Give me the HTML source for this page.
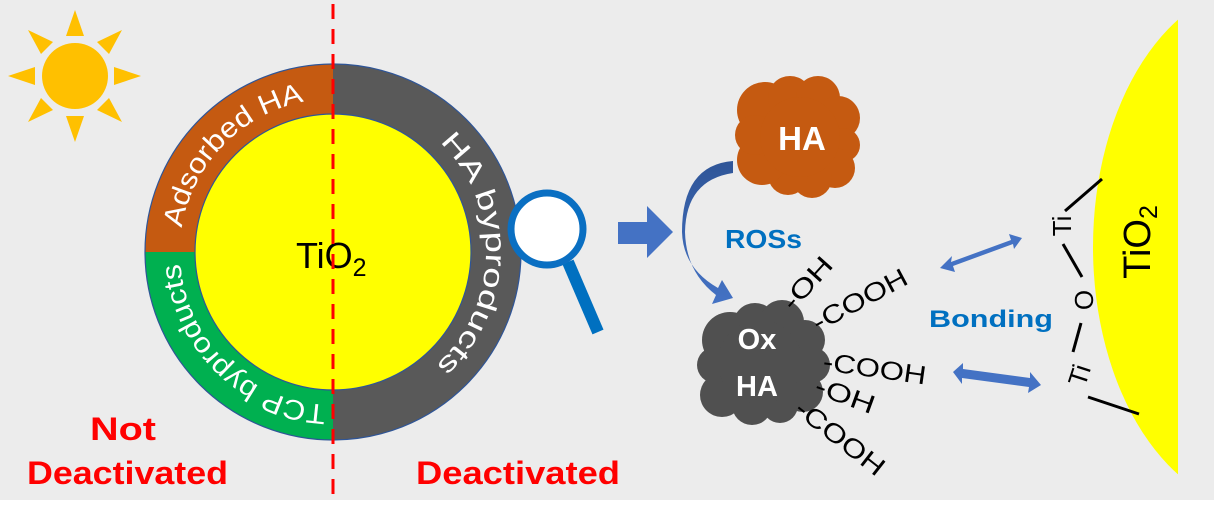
<!DOCTYPE html>
<html><head><meta charset="utf-8"><style>
html,body{margin:0;padding:0;background:#fff;}
svg{display:block;font-family:"Liberation Sans",Arial,sans-serif;}
</style></head><body>
<svg width="1214" height="518" viewBox="0 0 1214 518" xmlns="http://www.w3.org/2000/svg">
<defs>
<linearGradient id="cg" x1="0" y1="0" x2="0" y2="1">
<stop offset="0" stop-color="#2f5597"/><stop offset="1" stop-color="#4472c4"/>
</linearGradient>
<path id="pL" d="M180,252 A153,153 0 0 1 333,99"/>
<path id="pR" d="M333,99 A153,153 0 0 1 333,405"/>
<path id="pB" d="M333,405 A153,153 0 0 1 180,252"/>
<clipPath id="tc"><rect x="0" y="0" width="1178" height="518"/></clipPath>
</defs>
<rect x="0" y="0" width="1214" height="500" fill="#ececec"/>

<!-- sun -->
<g fill="#ffc000">
<circle cx="75" cy="76" r="33"/>
<polygon points="75,10 66,36 84,36"/>
<polygon points="75,142 66,116 84,116"/>
<polygon points="8,76 35,67 35,85"/>
<polygon points="141,76 114,67 114,85"/>
<polygon points="28,30 53,42 41,54"/>
<polygon points="122,30 97,42 109,54"/>
<polygon points="28,122 53,110 41,98"/>
<polygon points="122,122 97,110 109,98"/>
</g>

<!-- ring -->
<path d="M333,252 L333,64 A188,188 0 0 1 333,440 Z" fill="#595959"/>
<path d="M333,252 L145,252 A188,188 0 0 1 333,64 Z" fill="#c55a11"/>
<path d="M333,252 L333,440 A188,188 0 0 1 145,252 Z" fill="#00b050"/>
<circle cx="333" cy="252" r="188" fill="none" stroke="#2f5597" stroke-width="1.2"/>
<circle cx="333" cy="252" r="138" fill="#ffff00" stroke="#2f5597" stroke-width="1.2"/>
<text font-size="28" fill="#fff"><textPath href="#pL" startOffset="49%" text-anchor="middle" textLength="187" lengthAdjust="spacingAndGlyphs">Adsorbed HA</textPath></text>
<text font-size="28" fill="#fff"><textPath href="#pR" startOffset="50.5%" text-anchor="middle" textLength="250" lengthAdjust="spacingAndGlyphs">HA byproducts</textPath></text>
<text font-size="28" fill="#fff"><textPath href="#pB" startOffset="49%" text-anchor="middle" textLength="222" lengthAdjust="spacingAndGlyphs">TCP byproducts</textPath></text>
<text x="296" y="268" font-size="36" fill="#000">TiO<tspan font-size="25" dy="8">2</tspan></text>

<line x1="333" y1="4" x2="333" y2="500" stroke="#ff0000" stroke-width="3" stroke-dasharray="15,10"/>

<g font-size="32" font-weight="bold" fill="#ff0000">
<text x="90" y="440" textLength="66" lengthAdjust="spacingAndGlyphs">Not</text>
<text x="27" y="484" textLength="201" lengthAdjust="spacingAndGlyphs">Deactivated</text>
<text x="416" y="484" textLength="204" lengthAdjust="spacingAndGlyphs">Deactivated</text>
</g>

<!-- magnifier -->
<line x1="568" y1="262" x2="598" y2="332" stroke="#0070c0" stroke-width="12" stroke-linecap="butt"/>
<ellipse cx="547" cy="229" rx="36" ry="36" fill="#fff" stroke="#0a6fc2" stroke-width="7"/>

<!-- block arrow -->
<polygon points="618,222 647,222 647,206 673,232 647,258 647,244 618,244" fill="#4472c4"/>

<!-- HA cloud -->
<g fill="#c55a11">
<circle cx="765" cy="110" r="28"/><circle cx="790" cy="98" r="22"/><circle cx="818" cy="98" r="22"/>
<circle cx="838" cy="118" r="22"/><circle cx="843" cy="145" r="17"/><circle cx="835" cy="168" r="20"/>
<circle cx="812" cy="178" r="20"/><circle cx="788" cy="175" r="20"/><circle cx="762" cy="160" r="25"/>
<circle cx="755" cy="135" r="20"/><circle cx="800" cy="137" r="40"/>
</g>
<text x="802" y="150" font-size="33" font-weight="bold" fill="#fff" text-anchor="middle">HA</text>

<!-- curved arrow -->
<path d="M733,161 Q682,165 682,232 Q683,268 718,288 L722,280 L733,298 L712,304 L716,295 Q686,272 685,232 Q686,180 733,173 Z" fill="url(#cg)"/>
<text x="725" y="248" font-size="26" font-weight="bold" fill="#0070c0" textLength="77" lengthAdjust="spacingAndGlyphs">ROSs</text>

<!-- Ox HA cloud -->
<g fill="#505050">
<circle cx="730" cy="340" r="28"/><circle cx="755" cy="325" r="22"/><circle cx="782" cy="322" r="22"/>
<circle cx="805" cy="340" r="20"/><circle cx="812" cy="365" r="18"/><circle cx="803" cy="392" r="20"/>
<circle cx="780" cy="405" r="18"/><circle cx="752" cy="405" r="20"/><circle cx="722" cy="395" r="22"/>
<circle cx="715" cy="365" r="18"/><circle cx="760" cy="362" r="42"/>
</g>
<text x="757" y="349" font-size="29" font-weight="bold" fill="#fff" text-anchor="middle">Ox</text>
<text x="757" y="396" font-size="29" font-weight="bold" fill="#fff" text-anchor="middle">HA</text>

<g font-size="26" fill="#000">
<text transform="translate(793,312) rotate(-48)" textLength="62" lengthAdjust="spacingAndGlyphs">-OH</text>
<text transform="translate(818,332) rotate(-28)" textLength="104" lengthAdjust="spacingAndGlyphs">-COOH</text>
<text transform="translate(822,370) rotate(8)" textLength="104" lengthAdjust="spacingAndGlyphs">-COOH</text>
<text transform="translate(813,393) rotate(20)" textLength="62" lengthAdjust="spacingAndGlyphs">-OH</text>
<text transform="translate(793,412) rotate(38)" textLength="106" lengthAdjust="spacingAndGlyphs">-COOH</text>
</g>

<text x="929" y="327" font-size="24" font-weight="bold" fill="#0070c0" textLength="124" lengthAdjust="spacingAndGlyphs">Bonding</text>

<!-- double arrows -->
<g fill="#4472c4">
<polygon points="940,268 952,256 951,262 1011,240 1009,234 1022,238 1014,249 1013,244 953,266 955,272"/>
<polygon points="953,372 963,363 963,369 1030,378 1030,372 1041,385 1028,393 1029,387 962,378 962,384"/>
</g>

<!-- TiO2 surface -->
<ellipse cx="1262" cy="247" rx="169" ry="262" fill="#ffff00" clip-path="url(#tc)"/>
<text transform="translate(1150,242) rotate(-90)" font-size="38" fill="#000" text-anchor="middle">TiO<tspan font-size="25" dy="7">2</tspan></text>

<g stroke="#000" stroke-width="3">
<line x1="1065" y1="211" x2="1102" y2="179"/>
<line x1="1063" y1="244" x2="1082" y2="277"/>
<line x1="1081" y1="323" x2="1073" y2="352"/>
<line x1="1088" y1="397" x2="1139" y2="414"/>
</g>
<g font-size="26" fill="#000" text-anchor="middle">
<text transform="translate(1071,226) rotate(-90)">Ti</text>
<text transform="translate(1093,300) rotate(-90)">O</text>
<text transform="translate(1088,378) rotate(-72)">Ti</text>
</g>
</svg>
</body></html>
